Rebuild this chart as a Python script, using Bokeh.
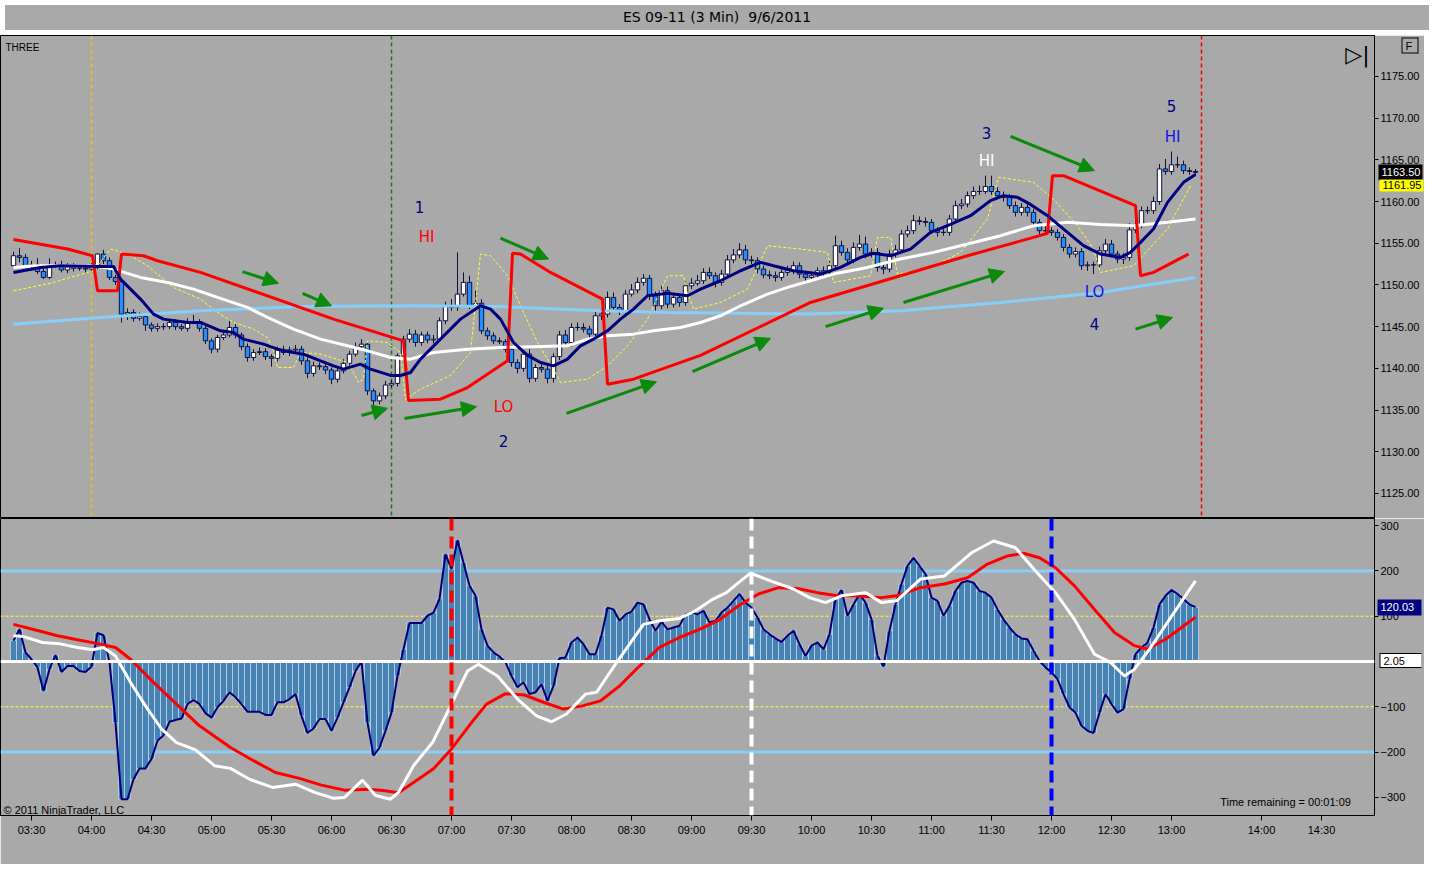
from bokeh.plotting import figure
from bokeh.models import (Range1d, ColumnDataSource, Span, Label, Arrow, NormalHead,
                          FixedTicker, PrintfTickFormatter, Div, LinearAxis)
from bokeh.layouts import column
from bokeh.embed import file_html
from bokeh.resources import INLINE
from bokeh.core.properties import value

# ---------------- data (3-minute bars, time in minutes after midnight) ----------------
first_open = 1152.3
closes = [
    1153.5, 1153.3, 1152.3, 1152.4, 1151.6, 1150.9, 1152.3, 1152.3, 1151.8, 1152.2,
    1152.0, 1152.0, 1151.9, 1152.2, 1153.7, 1152.9, 1150.9, 1150.4, 1146.5, 1146.7,
    1146.0, 1146.2, 1145.2, 1144.8, 1145.0, 1145.0, 1145.5, 1145.0, 1144.8, 1145.6,
    1145.6, 1144.8, 1143.3, 1142.3, 1143.7, 1144.0, 1144.9, 1144.0, 1142.6, 1141.3,
    1141.9, 1142.0, 1141.4, 1141.2, 1142.2, 1141.9, 1142.2, 1142.3, 1140.9, 1139.4,
    1140.3, 1140.2, 1139.8, 1138.7, 1139.7, 1140.6, 1141.7, 1142.6, 1142.9, 1137.3,
    1136.1, 1136.7, 1138.0, 1138.2, 1141.5, 1143.5, 1144.1, 1143.1, 1144.0, 1143.4,
    1143.5, 1145.7, 1147.5, 1147.3, 1148.9, 1150.3, 1147.5, 1147.8, 1144.5, 1143.9,
    1143.3, 1143.2, 1142.3, 1140.7, 1140.0, 1141.7, 1138.8, 1140.1, 1139.9, 1138.8,
    1141.4, 1144.0, 1143.1, 1144.9, 1144.9, 1144.7, 1144.1, 1146.3, 1146.5, 1148.5,
    1147.3, 1146.9, 1148.9, 1149.4, 1150.3, 1150.8, 1148.7, 1147.5, 1149.3, 1147.7,
    1148.5, 1147.9, 1149.9, 1150.2, 1150.5, 1151.5, 1151.1, 1150.3, 1151.3, 1153.0,
    1153.6, 1154.2, 1153.0, 1152.9, 1151.9, 1151.2, 1151.1, 1150.9, 1151.5, 1151.7,
    1152.3, 1151.3, 1150.9, 1151.1, 1151.7, 1151.5, 1152.3, 1154.7, 1153.9, 1153.0,
    1154.5, 1154.9, 1153.7, 1153.9, 1152.1, 1151.9, 1153.7, 1154.2, 1156.1, 1156.5,
    1157.7, 1157.6, 1157.5, 1156.5, 1156.3, 1156.3, 1157.9, 1159.5, 1159.7, 1160.7,
    1161.2, 1161.2, 1161.8, 1161.2, 1160.7, 1160.5, 1159.5, 1158.7, 1159.3, 1158.7,
    1157.5, 1156.5, 1156.5, 1156.3, 1155.7, 1154.5, 1153.7, 1154.0, 1152.3, 1152.4,
    1152.4, 1154.1, 1154.9, 1153.7, 1153.1, 1153.3, 1156.6, 1157.1, 1158.9, 1158.9,
    1160.0, 1163.9, 1163.6, 1164.4, 1164.4, 1163.7, 1163.6, 1163.5]
wick_up = [
    0.5, 0.9, 0.4, 0.5, 0.8, 0.4, 0.9, 0.5, 0.6, 0.4,
    0.4, 0.3, 0.5, 0.4, 0.1, 0.5, 0.4, 0.3, 0.4, 0.5,
    0.4, 0.5, 0.4, 0.3, 0.4, 0.4, 0.3, 0.4, 0.3, 0.4,
    0.8, 0.3, 0.4, 0.3, 0.3, 0.4, 0.8, 0.4, 0.3, 0.4,
    0.4, 0.5, 0.4, 0.3, 0.4, 0.5, 0.4, 0.5, 0.4, 0.4,
    0.5, 0.4, 0.4, 0.3, 0.4, 0.5, 0.4, 0.5, 0.6, 0.3,
    0.3, 0.4, 0.5, 0.4, 0.3, 0.4, 0.6, 0.5, 0.4, 0.4,
    0.5, 0.4, 0.5, 0.8, 5.0, 1.2, 0.8, 1.5, 0.5, 0.4,
    0.4, 0.4, 0.3, 0.4, 0.4, 0.5, 0.6, 0.4, 0.5, 0.4,
    0.4, 0.5, 0.6, 0.5, 0.6, 0.5, 0.4, 0.5, 0.6, 0.7,
    0.6, 0.4, 0.5, 0.7, 0.6, 0.5, 0.4, 0.5, 0.6, 0.5,
    0.5, 0.4, 0.5, 0.6, 0.7, 0.5, 0.6, 0.4, 0.5, 0.6,
    0.7, 0.8, 0.6, 0.5, 0.4, 0.4, 0.5, 0.5, 0.4, 0.6,
    0.5, 0.4, 0.4, 0.5, 0.4, 0.5, 0.6, 1.2, 0.6, 0.5,
    0.6, 1.1, 0.9, 0.5, 0.5, 0.4, 0.5, 0.6, 0.5, 0.6,
    0.7, 0.5, 0.5, 0.4, 0.4, 0.5, 0.5, 0.6, 0.6, 0.5,
    0.6, 0.7, 1.3, 1.3, 0.5, 0.5, 0.4, 0.5, 0.5, 0.4,
    0.4, 0.4, 0.5, 0.4, 0.4, 0.4, 0.4, 0.5, 0.4, 0.4,
    0.4, 0.5, 0.6, 0.5, 0.4, 0.5, 0.8, 0.6, 0.5, 0.5,
    0.6, 0.6, 1.2, 1.6, 1.0, 0.5, 0.4, 0.3]
wick_dn = [
    0.1, 0.6, 0.3, 0.6, 0.3, 0.2, 0.2, 0.3, 0.3, 0.4,
    0.4, 0.3, 0.4, 0.3, 0.3, 0.4, 0.3, 0.4, 1.0, 0.7,
    0.4, 0.3, 0.7, 0.4, 0.4, 0.4, 0.3, 0.4, 0.3, 0.4,
    0.3, 0.4, 0.4, 0.5, 0.4, 0.3, 0.3, 0.4, 0.4, 0.5,
    0.4, 0.3, 0.4, 1.0, 0.4, 0.3, 0.4, 0.3, 0.5, 0.6,
    0.4, 0.4, 0.5, 0.6, 0.4, 0.3, 0.4, 0.3, 0.3, 0.5,
    0.5, 0.4, 0.4, 0.3, 0.4, 0.4, 0.4, 0.5, 0.4, 0.4,
    0.4, 0.3, 0.4, 0.4, 0.4, 0.3, 0.4, 0.4, 0.4, 0.5,
    0.4, 0.3, 0.4, 0.5, 0.6, 0.4, 0.5, 0.4, 0.4, 0.6,
    0.5, 0.4, 0.4, 0.5, 0.4, 0.4, 0.5, 0.4, 0.5, 0.4,
    0.4, 0.5, 0.4, 0.3, 0.4, 0.4, 0.5, 0.6, 0.4, 0.5,
    0.4, 0.5, 0.4, 0.4, 0.3, 0.4, 0.4, 0.6, 0.4, 0.3,
    0.4, 0.4, 0.5, 0.4, 0.5, 0.4, 0.4, 0.5, 0.4, 0.4,
    0.4, 0.5, 0.5, 0.4, 0.4, 0.4, 0.4, 0.3, 0.4, 0.5,
    0.4, 0.4, 0.5, 0.4, 0.5, 0.6, 0.4, 0.4, 0.3, 0.4,
    0.4, 0.4, 0.5, 0.4, 0.5, 0.4, 0.4, 0.3, 0.4, 0.4,
    0.4, 0.4, 0.3, 0.4, 0.4, 0.5, 0.4, 0.5, 0.4, 0.5,
    0.4, 0.5, 0.4, 0.4, 0.4, 0.5, 0.5, 0.4, 0.5, 0.6,
    1.1, 0.4, 0.4, 0.4, 0.5, 0.6, 0.4, 0.4, 0.3, 0.4,
    0.4, 0.4, 0.4, 0.4, 0.4, 0.4, 0.4, 0.3]
cci = [
    46, 71, 20, 5, -13, -65, -17, 14, -23, -10,
    -10, -21, -23, -11, 63, 58, -2, -135, -304, -304,
    -260, -236, -236, -215, -175, -163, -133, -129, -126, -94,
    -85, -94, -114, -124, -101, -87, -68, -79, -94, -111,
    -111, -111, -118, -118, -90, -90, -83, -72, -120, -158,
    -148, -127, -127, -153, -124, -90, -57, -21, 0, -135,
    -208, -190, -153, -113, -32, 27, 85, 85, 85, 101,
    108, 138, 237, 204, 268, 218, 167, 145, 71, 35,
    20, 11, -2, -32, -57, -46, -72, -68, -50, -87,
    -54, 7, 9, 42, 53, 38, 16, 16, 57, 119,
    115, 90, 104, 110, 130, 126, 93, 68, 88, 71,
    75, 79, 104, 108, 104, 112, 86, 90, 108, 119,
    134, 149, 130, 119, 97, 71, 60, 51, 43, 57,
    68, 38, 12, 35, 42, 27, 60, 138, 158, 101,
    126, 149, 130, 93, 12, -11, 68, 126, 171, 211,
    229, 211, 193, 141, 134, 101, 123, 156, 174, 178,
    174, 156, 152, 141, 115, 93, 75, 60, 51, 49,
    24, 1, -13, -24, -39, -72, -101, -113, -142, -153,
    -158, -113, -72, -94, -113, -105, -39, 16, 31, 42,
    75, 126, 145, 158, 149, 138, 126, 120]

# price-panel indicator lines (time, price)
navy_t = [201, 214.5, 224.5, 244.5, 251, 254.5, 264.5, 271, 276, 288, 294.5, 304.5, 311, 316, 326,
          333, 341, 346, 354.5, 361, 366, 374.5, 379.5, 389.5, 394.5, 399.5, 404.5, 414.5, 424.5, 434.5,
          439.5, 444.5, 451, 458, 464.5, 471, 478, 484.5, 491, 498, 504.5, 511, 518, 528, 538,
          544.5, 554.5, 564.5, 574.5, 581, 591, 604.5, 614.5, 624.5, 631, 639.5, 649.5, 659.5, 669.5, 679.5,
          689.5, 696, 703, 709.5, 718, 728, 736, 744.5, 754.5, 759.5, 764.5, 771, 778, 786, 792]
navy_v = [1151.5, 1152.1, 1152.3, 1152.2, 1152.2, 1150.7, 1148.3, 1146.5, 1145.9, 1145.5, 1145.5, 1144.5, 1144.3, 1143.5, 1142.9,
          1142.3, 1141.9, 1141.7, 1140.9, 1140.3, 1139.9, 1140.5, 1139.9, 1139.15, 1139.15, 1139.5, 1141.1, 1143.5, 1145.9, 1147.5,
          1147.1, 1145.9, 1143.1, 1141.55, 1140.7, 1140.3, 1141.1, 1142.7, 1143.5, 1144.5, 1145.9, 1147.1, 1148.7, 1149.0, 1148.7,
          1149.5, 1150.5, 1151.7, 1152.7, 1152.3, 1151.7, 1151.3, 1152.1, 1153.3, 1153.8, 1153.5, 1154.3, 1156.3, 1157.25, 1158.3,
          1160.1, 1160.7, 1160.5, 1159.65, 1158.3, 1156.3, 1154.7, 1153.7, 1153.3, 1153.9, 1155.1, 1156.7, 1159.9, 1162.3, 1163.25]
white_t = [201, 211, 241, 251, 264.5, 278, 291, 303, 318, 328, 341, 354.5, 368, 378, 389.5,
           399.5, 411, 428, 444.5, 461, 478, 488, 498, 511, 521, 534.5, 544.5, 554.5, 564.5, 578,
           588, 599.5, 611, 628, 644.5, 661, 678, 694.5, 711, 728, 744.5, 761, 778, 792]
white_v = [1152.1, 1152.3, 1152.3, 1151.9, 1150.9, 1150.3, 1149.5, 1148.5, 1147.3, 1146.1, 1144.7, 1143.5, 1142.7, 1142.1, 1141.3,
           1141.1, 1141.9, 1142.3, 1142.5, 1142.6, 1142.7, 1143.5, 1143.9, 1144.1, 1144.5, 1144.9, 1145.5, 1146.3, 1147.5, 1148.9,
           1149.7, 1150.5, 1151.3, 1152.1, 1153.1, 1153.9, 1154.9, 1155.9, 1157.1, 1157.5, 1157.25, 1157.1, 1157.5, 1157.9]
lblue_t = [201, 244.5, 294.5, 344.5, 399.5, 444.5, 494.5, 528, 599.5, 644.5, 694.5, 744.5, 792]
lblue_v = [1145.3, 1146.1, 1146.9, 1147.4, 1147.5, 1147.4, 1146.9, 1146.7, 1146.5, 1146.9, 1147.9, 1149.1, 1150.9]
red_t = [201, 228, 240.5, 243, 253, 255, 266, 273, 294.5, 361, 396, 398.5, 414.5, 428, 448,
         450.5, 454.5, 469.5, 495.5, 498, 511, 544.5, 599.5, 644.5, 678, 711, 718, 720.5, 726, 762,
         764.5, 771, 788.5]
red_v = [1155.45, 1154.3, 1153.5, 1149.3, 1149.3, 1153.7, 1153.5, 1152.9, 1151.5, 1145.9, 1143.3, 1136.15, 1136.3, 1137.7, 1140.9,
         1153.8, 1153.7, 1151.5, 1148.3, 1138.1, 1138.7, 1141.55, 1147.9, 1151.1, 1153.5, 1155.7, 1156.2, 1163.1, 1163.1, 1159.5,
         1151.1, 1151.5, 1153.7]
yellow_t = [201, 219.5, 241, 249.5, 258, 268, 281, 294.5, 303, 311, 321, 328, 331, 333, 341,
            344.5, 354.5, 368, 371, 373.5, 376, 378, 388, 394.5, 397, 404.5, 419.5, 429.5, 434.5, 439.5,
            448, 456, 463, 471, 474.5, 488, 498, 508, 518, 528, 536, 538, 541, 554.5, 568,
            578, 594.5, 608, 611, 629.5, 633, 639.5, 643, 658, 674.5, 688, 693.5, 711, 721, 733,
            741, 744.5, 761, 778, 789.5]
yellow_v = [1149.3, 1150.2, 1151.7, 1154.3, 1153.7, 1152.3, 1149.7, 1148.3, 1146.7, 1145.5, 1144.7, 1143.7, 1142.1, 1140.1, 1140.1,
            1141.9, 1141.7, 1140.7, 1139.5, 1138.3, 1138.7, 1143.3, 1143.1, 1141.9, 1136.3, 1137.5, 1139.15, 1141.9, 1153.7, 1153.5,
            1151.1, 1146.7, 1143.1, 1139.9, 1138.3, 1138.7, 1140.3, 1142.7, 1145.9, 1151.1, 1151.1, 1149.1, 1147.1, 1147.9, 1149.5,
            1154.7, 1154.3, 1153.9, 1150.3, 1151.1, 1155.7, 1155.7, 1151.3, 1151.9, 1153.9, 1157.9, 1162.9, 1162.3, 1160.25, 1157.1,
            1154.3, 1151.5, 1152.3, 1156.7, 1161.9]

# oscillator smooth lines (time, value)
cw_t = [201, 206, 215.5, 223, 233, 240.5, 246, 252, 259.5, 267, 275, 282.5, 292, 301.5, 309.5,
        319, 330.5, 342, 351.5, 361, 366.5, 375.5, 382, 389.5, 393.5, 401, 410.5, 420, 428, 433.5,
        443, 453, 462.5, 470, 477.5, 487, 492.5, 502, 516, 524, 534, 542, 550, 557.5, 563.5,
        569.5, 579.5, 591, 599, 607, 615, 627, 635, 642.5, 654.5, 666.5, 680, 691, 702, 712,
        722, 731.5, 741.5, 749.5, 756.5, 761.5, 769, 779, 792]
cw_v = [57, 55, 42, 40, 31, 26, 31, 12, -46, -98, -149, -179, -195, -230, -236,
        -260, -278, -271, -289, -302, -300, -262, -296, -304, -289, -230, -179, -94, -21, -6,
        -32, -83, -120, -133, -116, -72, -68, -6, 82, 90, 95, 112, 136, 152, 174,
        195, 178, 160, 141, 130, 145, 152, 130, 134, 182, 189, 240, 266, 251, 200,
        152, 93, 16, -2, -32, -17, 27, 93, 178]
cr_t = [201, 213.5, 223, 233, 242.5, 252, 259.5, 271, 282.5, 294, 309.5, 321, 332, 344, 355,
        366.5, 378, 386, 393.5, 401, 411, 420, 430, 437.5, 447, 456.5, 466, 476, 485.5, 494.5,
        504, 514, 524, 534, 544, 554, 563.5, 573.5, 583.5, 593, 603, 613, 623, 635, 642.5,
        654.5, 666.5, 678, 688, 698, 706, 714, 722, 731.5, 741.5, 751.5, 761.5, 768, 777, 785, 792]
cr_v = [82, 68, 57, 48, 40, 31, 5, -46, -94, -142, -190, -219, -245, -258, -273,
        -284, -282, -285, -290, -267, -237, -193, -135, -94, -71, -74, -90, -105, -98, -87,
        -54, -10, 31, 53, 71, 92, 123, 149, 163, 161, 152, 145, 145, 141, 145,
        163, 171, 185, 215, 233, 239, 229, 207, 167, 115, 64, 35, 27, 49, 75, 98]

# annotations
arrow_t0 = [315.5, 345.5, 375, 396.5, 444.5, 477.5, 540.5, 607, 646, 699.5, 762]
arrow_p0 = [1151.6, 1149.0, 1134.35, 1134.0, 1155.6, 1134.6, 1139.6, 1145.0, 1147.9, 1167.8, 1144.7]
arrow_t1 = [333.5, 360, 388, 432.5, 468.5, 522.5, 579.5, 636, 696.5, 741.5, 780.5]
arrow_p1 = [1150.2, 1147.5, 1135.2, 1135.4, 1153.1, 1138.4, 1143.6, 1147.2, 1151.6, 1163.7, 1146.1]
ann_t = [404, 407.5, 446, 446, 687.5, 687.5, 741.5, 741.5, 780, 780.5]
ann_p = [1159.4, 1155.7, 1135.4, 1131.35, 1168.2, 1164.8, 1149.2, 1145.3, 1171.4, 1167.7]
ann_text = ["1", "HI", "LO", "2", "3", "HI", "LO", "4", "5", "HI"]

price_ticks = [1125, 1130, 1135, 1140, 1145, 1150, 1155, 1160, 1165, 1170, 1175]
cci_ticks = [-300, -200, -100, 100, 200, 300]
time_ticks = [210, 240, 270, 300, 330, 360, 390, 420, 450, 480, 510, 540, 570, 600, 630,
              660, 690, 720, 750, 780, 825, 855]
time_labels = ["03:30", "04:00", "04:30", "05:00", "05:30", "06:00", "06:30", "07:00", "07:30",
               "08:00", "08:30", "09:00", "09:30", "10:00", "10:30", "11:00", "11:30", "12:00",
               "12:30", "13:00", "14:00", "14:30"]
last_price = 1163.50
ref_price = 1161.95
last_cci = 120.03
last_smooth = 2.05
button_level = 1178.7

# ---------------- styling ----------------
BG = "#a9a9a9"
FONT = "DejaVu Sans"
AXF = "Liberation Sans"
GREEN = "#0b8a0b"
ann_colors = ["#000080", "#ff0000", "#ff0000", "#000080", "#000080", "#ffffff",
              "#1010ee", "#000080", "#000080", "#1010ee"]
W = 1424
RB = 50
X0 = 194.5
X1 = X0 + (W - RB) / 2.0

n = len(closes)
bar_time = [201 + 3 * k for k in range(n)]
opens = [first_open] + closes[:-1]
body_top = [max(o, c) for o, c in zip(opens, closes)]
body_bot = [min(o, c) for o, c in zip(opens, closes)]
highs = [t + w for t, w in zip(body_top, wick_up)]
lows = [b - w for b, w in zip(body_bot, wick_dn)]
fills = ["#ffffff" if c >= o else "#1e90ff" for o, c in zip(opens, closes)]

xr = Range1d(X0, X1)


def style_axis(ax, tick_out):
    ax.major_label_text_font = AXF
    ax.major_label_text_font_size = "11px"
    ax.major_label_text_color = "black"
    ax.major_tick_in = 0
    ax.major_tick_out = tick_out
    ax.minor_tick_line_color = None
    ax.axis_line_color = "black"
    ax.major_label_standoff = 2


def tag_axis(fig, val, fill, text_color, length, thick, text=None, standoff=None, out=0):
    """a scale tag: one tick drawn inward as a thick bar, with its label laid over it"""
    label = ("%.2f" % val) if text is None else text
    ax = LinearAxis(ticker=FixedTicker(ticks=[val]),
                    major_label_overrides={val: label},
                    axis_line_color=None, major_tick_in=length, major_tick_out=out,
                    major_tick_line_color=fill, major_tick_line_width=thick,
                    major_tick_line_cap="butt", minor_tick_line_color=None,
                    major_label_standoff=-(length - 3) if standoff is None else standoff,
                    major_label_text_color=text_color,
                    major_label_text_font=AXF, major_label_text_font_size="11px")
    fig.add_layout(ax, "right")


title = Div(text="ES 09-11 (3 Min)&nbsp;&nbsp;9/6/2011", width=W, height=25,
            styles={"background-color": BG, "text-align": "center", "font-family": FONT,
                    "font-size": "14px", "line-height": "25px", "color": "black"})

# ---------------- price panel ----------------
p1 = figure(width=W, height=483, x_range=xr, y_range=Range1d(1122.0, 1179.9),
            output_backend="svg", toolbar_location=None, x_axis_location=None,
            y_axis_location="right", min_border_left=0, min_border_right=RB,
            min_border_top=0, min_border_bottom=0,
            background_fill_color=BG, border_fill_color=BG, outline_line_color="black")
p1.xgrid.visible = False
p1.ygrid.visible = False
ya = p1.yaxis[0]
ya.ticker = FixedTicker(ticks=price_ticks)
ya.formatter = PrintfTickFormatter(format="%.2f")
style_axis(ya, 4)
tag_axis(p1, last_price, "#000000", "#ffffff", 44, 16)
tag_axis(p1, ref_price, "#ffff00", "#000000", 44, 12)
# small "F" button at the top of the scale
tag_axis(p1, button_level, "#000000", None, 23, 16, text="")
tag_axis(p1, button_level, BG, None, 22, 14, text="")
tag_axis(p1, button_level, "#000000", None, 7, 16, text="")
tag_axis(p1, button_level, BG, "#000000", 6, 18, text="F", standoff=-19)

for loc, col in [(240, "#f0c010"), (390, "#1a7a1a"), (795, "#ff0000")]:
    p1.add_layout(Span(location=loc, dimension="height", line_color=col, line_width=1.5,
                       line_dash="4 3", level="underlay"))

csrc = ColumnDataSource(dict(t=bar_time, h=highs, l=lows, top=body_top, bot=body_bot, fill=fills))
p1.segment(x0="t", y0="l", x1="t", y1="h", source=csrc, line_color="#101040", line_width=1)
p1.vbar(x="t", top="top", bottom="bot", width=2.2, source=csrc, fill_color="fill",
        line_color="#101040", line_width=1)

p1.line(yellow_t, yellow_v, line_color="#ffff33", line_width=1, line_dash="3 2")
p1.line(lblue_t, lblue_v, line_color="#87cefa", line_width=3)
p1.line(white_t, white_v, line_color="#ffffff", line_width=3)
p1.line(red_t, red_v, line_color="#ff0000", line_width=3)
p1.line(navy_t, navy_v, line_color="#000080", line_width=3)

asrc = ColumnDataSource(dict(x0=arrow_t0, y0=arrow_p0, x1=arrow_t1, y1=arrow_p1))
p1.add_layout(Arrow(end=NormalHead(size=15, fill_color=GREEN, line_color=GREEN),
                    x_start="x0", y_start="y0", x_end="x1", y_end="y1", source=asrc,
                    line_color=GREEN, line_width=3))

p1.text(x=ann_t, y=ann_p, text=ann_text, text_color=ann_colors, text_font=value(FONT),
        text_font_size="15px", text_align="center", text_baseline="middle")

p1.add_layout(Label(x=197, y=1178.5, text="THREE", text_font=AXF, text_font_size="10px",
                    text_color="black", text_baseline="middle"))
p1.add_layout(Label(x=873, y=1177.6, text="\u25b7|", text_font=FONT, text_font_size="22px",
                    text_color="black", text_align="center", text_baseline="middle"))

# ---------------- oscillator panel ----------------
p2 = figure(width=W, height=346, x_range=xr, y_range=Range1d(-340, 315.7),
            output_backend="svg", toolbar_location=None, y_axis_location="right",
            min_border_left=0, min_border_right=RB, min_border_top=0, min_border_bottom=49,
            background_fill_color=BG, border_fill_color=BG, outline_line_color="black")
p2.xgrid.visible = False
p2.ygrid.visible = False
xa = p2.xaxis[0]
xa.ticker = FixedTicker(ticks=time_ticks)
xa.major_label_overrides = {t: s for t, s in zip(time_ticks, time_labels)}
style_axis(xa, 5)
xa.major_label_standoff = 3
ya2 = p2.yaxis[0]
ya2.ticker = FixedTicker(ticks=cci_ticks)
style_axis(ya2, 4)
# invisible spacer so the oscillator tags line up with the price tags
tag_axis(p2, 0, None, None, 0, 1, text="", standoff=0, out=13)
tag_axis(p2, last_cci, "#000080", "#ffffff", 44, 16)
tag_axis(p2, last_smooth, "#000000", None, 42, 15, text="")
tag_axis(p2, last_smooth, "#ffffff", "#000000", 41, 13)

for lv in (200, -200):
    p2.add_layout(Span(location=lv, dimension="width", line_color="#87cefa", line_width=3,
                       level="underlay"))
for lv in (100, -100):
    p2.add_layout(Span(location=lv, dimension="width", line_color="#ffff33", line_width=1,
                       line_dash="3 2", level="underlay"))

p2.vbar(x=bar_time, top=cci, bottom=0, width=3, fill_color="#4682b4",
        line_color="#cfdbe6", line_width=0.7)
p2.add_layout(Span(location=0, dimension="width", line_color="#ffffff", line_width=3))
p2.line(bar_time, cci, line_color="#00007a", line_width=2)
p2.line(cr_t, cr_v, line_color="#ff0000", line_width=3)
p2.line(cw_t, cw_v, line_color="#ffffff", line_width=3)

for loc, col in [(420, "#ff0000"), (570, "#ffffff"), (720, "#0000ff")]:
    p2.add_layout(Span(location=loc, dimension="height", line_color=col, line_width=4,
                       line_dash="12 6"))

p2.add_layout(Label(x=196, y=-327, text="\u00a9 2011 NinjaTrader, LLC", text_font=AXF,
                    text_font_size="11px", text_color="black", text_baseline="middle"))
p2.add_layout(Label(x=837, y=-311, text="Time remaining = 00:01:09", text_font=AXF,
                    text_font_size="11px", text_color="black", text_align="center",
                    text_baseline="middle"))

layout = column(title, p1, p2)
open("out.html", "w").write(file_html(layout, INLINE))
